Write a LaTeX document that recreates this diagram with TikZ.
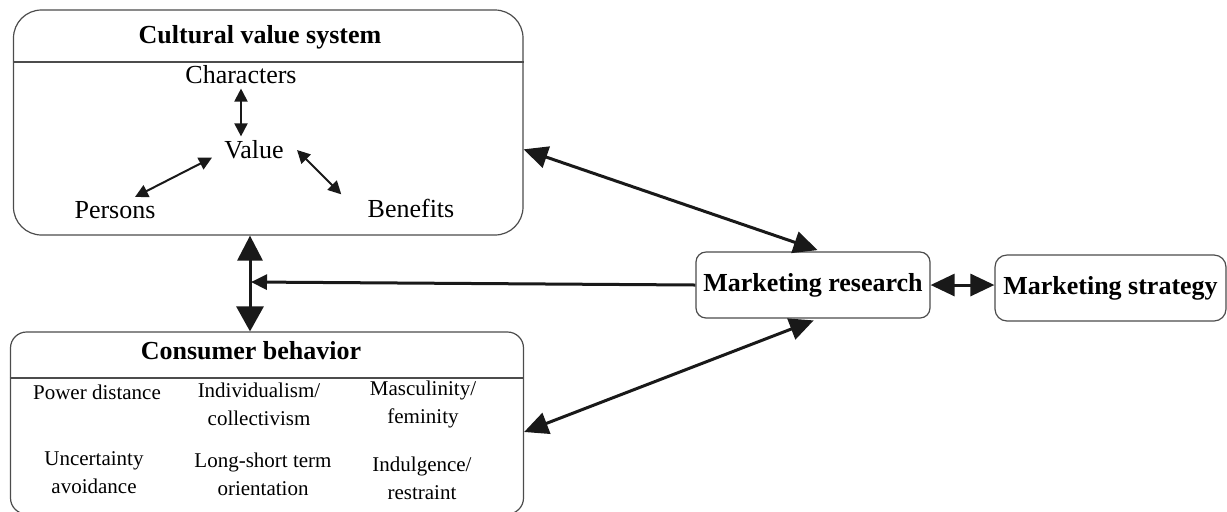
\documentclass[tikz,border=0pt]{standalone}
\usepackage{fontspec}
\setmainfont{Liberation Serif}
\usetikzlibrary{arrows.meta}

\begin{document}
\begin{tikzpicture}[x=0.5pt,y=-0.5pt,
    rbox/.style={draw=black!70,line width=0.6pt,rounded corners=#1,inner sep=0pt},
    ttl/.style={font=\bfseries\fontsize{13}{15}\selectfont},
    lbl/.style={font=\fontsize{13}{15}\selectfont,inner sep=2pt},
    itm/.style={font=\fontsize{10.5}{14}\selectfont,align=center,inner sep=0pt},
    bigarr/.style={line width=1.5pt,draw=black!90,{Triangle[length=12pt,width=11pt]}-{Triangle[length=12pt,width=11pt]}},
    smallarr/.style={line width=1pt,draw=black!90,{Triangle[length=6.5pt,width=6.5pt]}-{Triangle[length=6.5pt,width=6.5pt]}}]
    \useasboundingbox (0,0) rectangle (1227,511);
    % cultural value system
    \node[rbox=14pt,minimum width=254.75pt,minimum height=112.5pt] (cvs) at (268.25,122.5) {};
    \draw[draw=black!70,line width=0.6pt] (cvs.west |- 0,62) -- (cvs.east |- 0,62);
    \node[ttl] (cvst) at (260,37) {Cultural value system};
    \node[lbl] (chr) at (241,75) {Characters};
    \node[lbl] (val) at (254,150) {Value};
    \node[lbl] (per) at (115,210) {Persons};
    \node[lbl] (ben) at (411,208) {Benefits};
    \draw[smallarr] (chr.south) -- (chr.south |- val.north);
    \draw[smallarr] ([xshift=10pt]per.north) -- ([xshift=-4pt,yshift=3pt]val.south west);
    \draw[smallarr] ([xshift=4.5pt]val.east) -- ([xshift=-11pt]ben.north west);
    % consumer behavior
    \node[rbox=8pt,minimum width=256.5pt,minimum height=91pt] (cb) at (267,423) {};
    \draw[draw=black!70,line width=0.6pt] (cb.west |- 0,378) -- (cb.east |- 0,378);
    \node[ttl] (cbt) at (251,351) {Consumer behavior};
    \node[itm] (pd) at (97,392) {Power distance};
    \node[itm] (ic) at (259,404) {Individualism/\\collectivism};
    \node[itm] (mf) at (423,404) {Masculinity/\\feminity};
    \node[itm] (ua) at (94,473) {Uncertainty\\avoidance};
    \node[itm] (lo) at (263,474) {Long-short term\\orientation};
    \node[itm] (ir) at (422,478) {Indulgence/\\restraint};
    % marketing
    \node[rbox=5pt,ttl,minimum width=117pt,minimum height=33pt] (mr) at (813,285) {Marketing research};
    \node[rbox=6pt,ttl,minimum width=115.5pt,minimum height=33pt] (ms) at (1110.5,288) {Marketing strategy};
    % connectors
    \coordinate (vx) at (250,0);
    \coordinate (jn) at (251,282);
    \draw[bigarr,{Triangle[length=12.5pt,width=12.5pt]}-{Triangle[length=12.5pt,width=13.5pt]}] (cvs.south -| vx) -- (cb.north -| vx);
    \draw[line width=1.5pt,draw=black!90,-{Triangle[length=8pt,width=7.5pt]}] (mr.west) -- (jn);
    \draw[bigarr,shorten >=2pt] (cvs.-6.6) -- (mr.76);
    \draw[bigarr,shorten >=2.5pt] (cb.-2.7) -- (mr.-81);
    \draw[bigarr] (mr.east) -- (mr.east -| ms.west);
\end{tikzpicture}
\end{document}
